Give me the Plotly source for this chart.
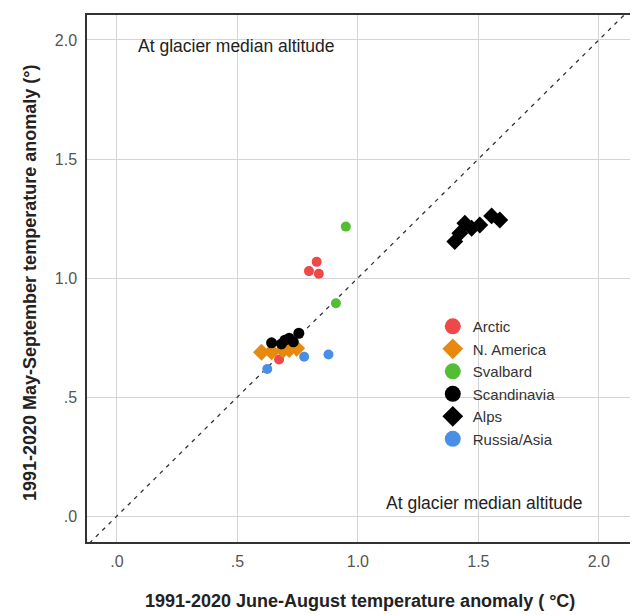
import plotly.graph_objects as go

# ---- data ----
arctic_x = [0.829, 0.797, 0.838, 0.673]
arctic_y = [1.068, 1.029, 1.018, 0.658]

namerica_x = [0.600, 0.642, 0.690, 0.715, 0.746]
namerica_y = [0.688, 0.690, 0.697, 0.700, 0.705]

svalbard_x = [0.950, 0.909]
svalbard_y = [1.216, 0.894]

scand_x = [0.642, 0.683, 0.697, 0.715, 0.732, 0.755]
scand_y = [0.728, 0.723, 0.739, 0.747, 0.732, 0.768]

alps_x = [1.402, 1.423, 1.444, 1.472, 1.506, 1.555, 1.589]
alps_y = [1.153, 1.188, 1.230, 1.209, 1.223, 1.261, 1.244]

russia_x = [0.624, 0.777, 0.878]
russia_y = [0.618, 0.669, 0.679]

tick_vals = [0.0, 0.5, 1.0, 1.5, 2.0]
tick_text = [".0", ".5", "1.0", "1.5", "2.0"]

groups = [
    ("Arctic", arctic_x, arctic_y, "#EF4848", "circle", 10),
    ("N. America", namerica_x, namerica_y, "#E8890F", "diamond", 13),
    ("Svalbard", svalbard_x, svalbard_y, "#52BE33", "circle", 10),
    ("Scandinavia", scand_x, scand_y, "#000000", "circle", 11),
    ("Alps", alps_x, alps_y, "#000000", "diamond", 13),
    ("Russia/Asia", russia_x, russia_y, "#4A8FE6", "circle", 10),
]

fig = go.Figure()

# y = x reference line
fig.add_trace(go.Scatter(x=[-0.3, 2.3], y=[-0.3, 2.3], mode="lines",
                         line=dict(color="#333333", width=1.3, dash="4px,5px"),
                         showlegend=False, hoverinfo="skip"))

for name, xs, ys, col, sym, sz in groups:
    fig.add_trace(go.Scatter(x=xs, y=ys, mode="markers", name=name,
                             marker=dict(color=col, symbol=sym, size=sz, line=dict(width=0)),
                             showlegend=False))
    fig.add_trace(go.Scatter(x=[None], y=[None], mode="markers", name=name,
                             marker=dict(color=col, symbol=sym, size=18, line=dict(width=0)),
                             showlegend=True))

axis_common = dict(
    tickvals=tick_vals, ticktext=tick_text, automargin=False,
    showgrid=True, gridcolor="#D4D4D4", gridwidth=1,
    zeroline=False, showline=True, linecolor="#333333", linewidth=1.5, mirror=True,
    ticks="", tickfont=dict(family="Liberation Sans, Arial", size=16, color="#555555"),
)

# page body adds an 8px offset, so the figure is 8px smaller and shifted
fig.update_layout(
    width=630, height=607,
    margin=dict(l=79, r=3, t=7, b=73),
    paper_bgcolor="white", plot_bgcolor="white",
    font=dict(family="Liberation Sans, Arial", color="#222222"),
    xaxis=dict(range=[-0.124, 2.15], ticklabelstandoff=4, **axis_common),
    yaxis=dict(range=[-0.109, 2.105], ticklabelstandoff=5, **axis_common),
    legend=dict(x=0.631, y=0.44, xanchor="left", yanchor="top",
                bgcolor="rgba(0,0,0,0)", font=dict(size=15, color="#333333"),
                itemsizing="trace", tracegroupgap=0),
    annotations=[
        dict(text="At glacier median altitude", x=0.08, y=1.974, xref="x", yref="y",
             xanchor="left", yanchor="middle", showarrow=False,
             font=dict(size=17.5, color="#222222")),
        dict(text="At glacier median altitude", x=1.11, y=0.053, xref="x", yref="y",
             xanchor="left", yanchor="middle", showarrow=False,
             font=dict(size=17.5, color="#222222")),
        dict(text="<b>1991-2020 June-August temperature anomaly ( °C)</b>",
             x=(360 - 87) / 548, y=-(601 - 542) / 527, xref="paper", yref="paper",
             xanchor="center", yanchor="middle", showarrow=False,
             font=dict(size=18, color="#222222")),
        dict(text="<b>1991-2020 May-September temperature anomaly (°)</b>",
             x=-(87 - 30) / 548, y=(542 - 283) / 527, xref="paper", yref="paper",
             xanchor="center", yanchor="middle", showarrow=False, textangle=-90,
             font=dict(size=18, color="#222222")),
    ],
)

fig.write_html("out.html")
